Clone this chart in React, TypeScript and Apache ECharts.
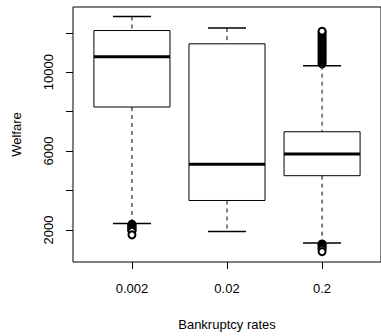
import React, { useEffect, useRef } from "react";
import * as echarts from "echarts";

const categories = ["0.002", "0.02", "0.2"];
const lowerWhisker = [2328, 1915, 1334];
const q1 = [8234, 3493, 4751];
const median = [10786, 5330, 5855];
const q3 = [12114, 11440, 6980];
const upperWhisker = [12826, 12240, 10330];

const outliers002 = [2290, 2250, 2210, 2170, 2130, 2090, 2050, 2010, 1970, 1930, 1750];
const outliers02: number[] = [];
const outliers2 = [
  10420, 10520, 10600, 10680, 10760, 10840, 10920, 11000, 11080, 11160, 11240,
  11320, 11400, 11480, 11560, 11640, 11720, 11800, 11880, 11960, 12040, 12080,
  1290, 1230, 1170, 1100, 1020, 900,
];

const yTicks = [2000, 4000, 6000, 8000, 10000, 12000];
const yLabels = [2000, 6000, 10000];

const FONT = "'Liberation Sans', Arial, Helvetica, sans-serif";

export default function App() {
  const ref = useRef<HTMLDivElement>(null);
  useEffect(() => {
    document.body.style.margin = "0";
    if (!ref.current) return;
    const chart = echarts.init(ref.current, null, { renderer: "svg" });
    const boxData = categories.map((_, i) => [
      i + 1,
      lowerWhisker[i],
      q1[i],
      median[i],
      q3[i],
      upperWhisker[i],
    ]);
    const outlierData: number[][] = [];
    [outliers002, outliers02, outliers2].forEach((arr, i) =>
      arr.forEach((v) => outlierData.push([i + 1, v]))
    );
    chart.setOption({
      animation: false,
      backgroundColor: "#fff",
      grid: {
        left: 73,
        top: 7,
        right: -2,
        bottom: 69,
        show: true,
        borderColor: "#000",
        borderWidth: 1,
        backgroundColor: "transparent",
      },
      xAxis: {
        type: "value",
        min: 0.38,
        max: 3.62,
        name: "Bankruptcy rates",
        nameLocation: "middle",
        nameGap: 56,
        nameTextStyle: { fontFamily: FONT, fontSize: 13, color: "#000" },
        axisLine: { show: false },
        splitLine: { show: false },
        axisTick: {
          show: true,
          length: 7,
          customValues: [1, 2, 3],
          lineStyle: { color: "#000", width: 1 },
        },
        axisLabel: {
          customValues: [1, 2, 3],
          formatter: (v: number) => categories[Math.round(v) - 1] ?? "",
          margin: 20,
          fontFamily: FONT,
          fontSize: 13,
          color: "#000",
        },
      },
      yAxis: {
        type: "value",
        min: 373,
        max: 13308,
        name: "Welfare",
        nameLocation: "middle",
        nameGap: 50,
        nameRotate: 90,
        nameTextStyle: { fontFamily: FONT, fontSize: 13, color: "#000" },
        axisLine: { show: false },
        splitLine: { show: false },
        axisTick: {
          show: true,
          length: 7,
          customValues: yTicks,
          lineStyle: { color: "#000", width: 1 },
        },
        axisLabel: {
          customValues: yLabels,
          formatter: (v: number) => String(Math.round(v)),
          rotate: 90,
          margin: 18,
          fontFamily: FONT,
          fontSize: 13,
          color: "#000",
        },
      },
      series: [
        {
          type: "custom",
          data: boxData,
          z: 2,
          renderItem: (params: any, api: any) => {
            const x = api.value(0);
            const lo = api.coord([x, api.value(1)]);
            const b1 = api.coord([x, api.value(2)]);
            const md = api.coord([x, api.value(3)]);
            const b3 = api.coord([x, api.value(4)]);
            const hi = api.coord([x, api.value(5)]);
            const bw = api.size([0.8, 0])[0];
            const cx = lo[0];
            const stroke = "#000";
            return {
              type: "group",
              children: [
                {
                  type: "line",
                  shape: { x1: cx, y1: hi[1], x2: cx, y2: b3[1] },
                  style: { stroke, lineWidth: 1, lineDash: [4, 4] },
                },
                {
                  type: "line",
                  shape: { x1: cx, y1: b1[1], x2: cx, y2: lo[1] },
                  style: { stroke, lineWidth: 1, lineDash: [4, 4] },
                },
                {
                  type: "line",
                  shape: { x1: cx - bw / 4, y1: hi[1], x2: cx + bw / 4, y2: hi[1] },
                  style: { stroke, lineWidth: 1.5 },
                },
                {
                  type: "line",
                  shape: { x1: cx - bw / 4, y1: lo[1], x2: cx + bw / 4, y2: lo[1] },
                  style: { stroke, lineWidth: 1.5 },
                },
                {
                  type: "rect",
                  shape: { x: cx - bw / 2, y: b3[1], width: bw, height: b1[1] - b3[1] },
                  style: { fill: "#fff", stroke, lineWidth: 1 },
                },
                {
                  type: "line",
                  shape: { x1: cx - bw / 2, y1: md[1], x2: cx + bw / 2, y2: md[1] },
                  style: { stroke, lineWidth: 3 },
                },
              ],
            };
          },
        },
        {
          type: "scatter",
          data: outlierData,
          z: 3,
          symbol: "emptyCircle",
          symbolSize: 7,
          itemStyle: { color: "#000", borderColor: "#000", borderWidth: 1, opacity: 1 },
        },
      ],
    });
    return () => chart.dispose();
  }, []);
  return <div ref={ref} style={{ width: 381, height: 336 }} />;
}
